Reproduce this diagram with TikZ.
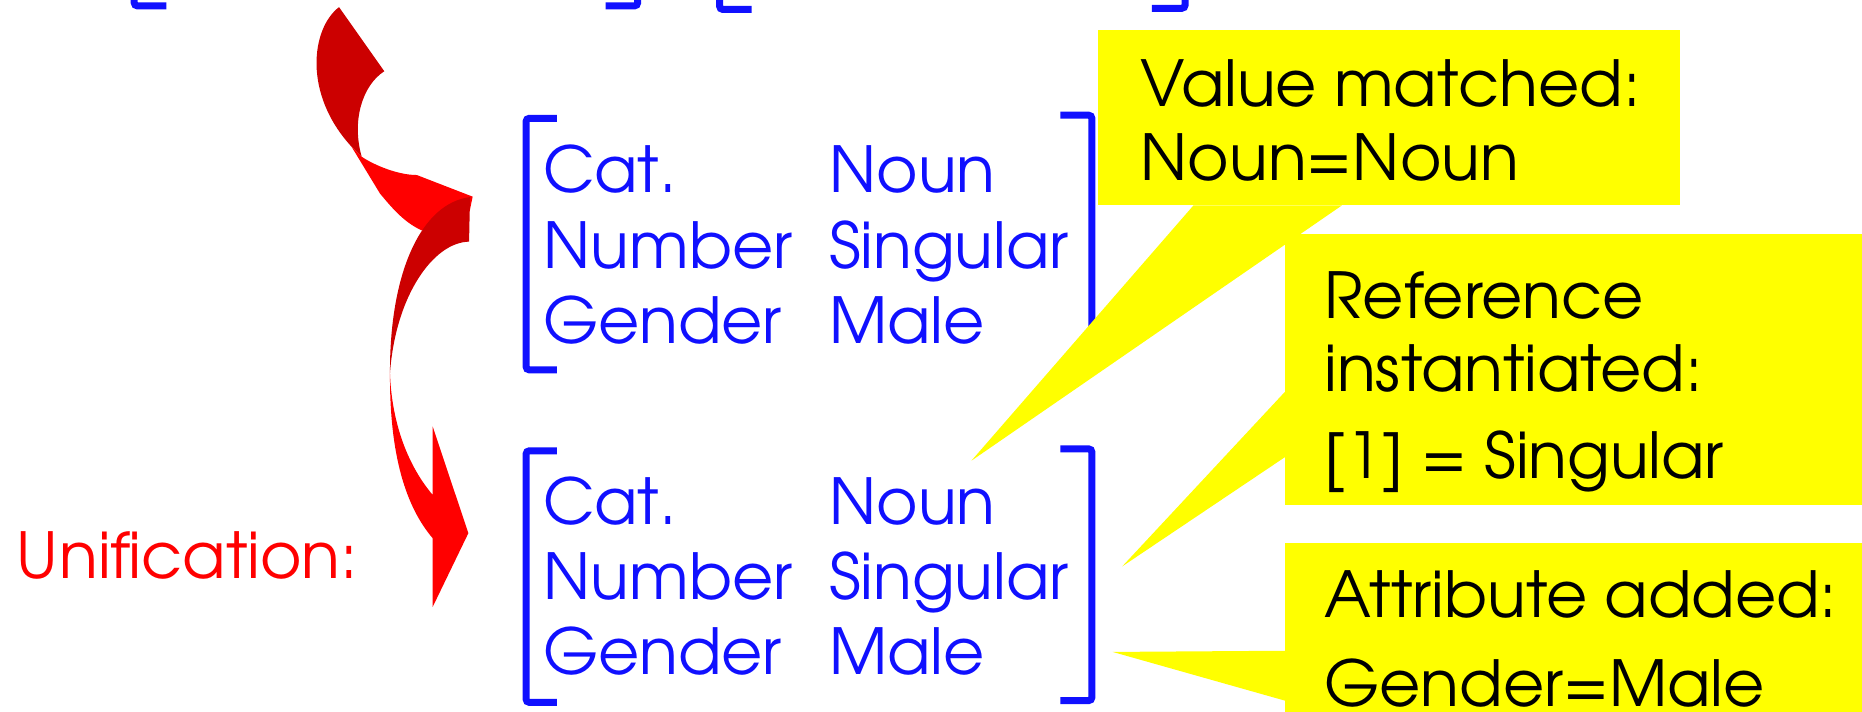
\documentclass[tikz,border=0pt]{standalone}
\usepackage{fontspec}
\setmainfont{TeX Gyre Adventor}
\definecolor{unifblue}{RGB}{16,16,255}
\definecolor{unifred}{RGB}{255,0,0}
\definecolor{unifdark}{RGB}{204,0,0}
\definecolor{unifyellow}{RGB}{255,255,0}

\begin{document}
\begin{tikzpicture}[x=0.25mm,y=0.25mm,font=\fontsize{38}{46}\selectfont,
  feat/.style={anchor=base west,inner sep=0pt,text=unifblue},
  note/.style={anchor=base west,inner sep=0pt},
  bracket/.style={draw=unifblue,line width=4.2pt,rounded corners=2pt}]
\path[use as bounding box] (0,0) rectangle (1568,599);
% ribbon arrow, drawn back to front
\fill[unifdark] (285.5,593) -- (323.6,539) .. controls (305,527) and (296,497) .. (304.6,467)
  -- (296,475.5) .. controls (255,520) and (262,575) .. (285.5,593) -- cycle;
\fill[unifred] (296,475.5) -- (304.6,467) .. controls (315,460) and (335,451.6) .. (351,451.6)
  -- (398,433.4) -- (395.5,421) -- (355,405) .. controls (340,412) and (330,424) .. (320,436)
  -- cycle;
\fill[unifdark] (395.8,433) -- (395,395.5) .. controls (365,395) and (333,350) .. (328.4,284.6)
  .. controls (328,370) and (355,428) .. (395.8,433) -- cycle;
\fill[unifred] (328.4,284.6) .. controls (328,215) and (342,172) .. (364.4,145.7) -- (364.4,88)
  -- (394.4,150) -- (364.4,239.7) -- (364.4,182.2) .. controls (345,205) and (330,240) .. (328.4,284.6)
  -- cycle;
\node[note,text=unifred] (unif) at (14,111.5) {Unification:};
% brackets of the row above, cut off by the top edge
\draw[bracket] (113,610) -- (113,594) -- (140,594);
\draw[bracket] (510,594) -- (537,594) -- (537,610);
\draw[bracket] (606,610) -- (606,591) -- (633,591);
\draw[bracket] (970,592) -- (998,592) -- (998,610);
% first feature structure
\draw[bracket] (469,499.4) -- (443,499.4) -- (443,287.5) -- (469,287.5);
\draw[bracket] (893,502) -- (919.5,502) -- (919.5,288) -- (893,288);
\node[feat] (catA) at (457,437) {Cat.};
\node[feat] (nounA) at (698,437) {Noun};
\node[feat] (numA) at (457,373) {Number};
\node[feat] (singA) at (698,373) {Singular};
\node[feat] (genA) at (457,310) {Gender};
\node[feat] (maleA) at (698,310) {Male};
% unified feature structure
\draw[bracket] (469,219.4) -- (443,219.4) -- (443,7.5) -- (469,7.5);
\draw[bracket] (893,221) -- (919.5,221) -- (919.5,9) -- (893,9);
\node[feat] (catB) at (457,157) {Cat.};
\node[feat] (nounB) at (698,157) {Noun};
\node[feat] (numB) at (457,94) {Number};
\node[feat] (singB) at (698,94) {Singular};
\node[feat] (genB) at (457,31) {Gender};
\node[feat] (maleB) at (698,31) {Male};
% callouts
\fill[unifyellow] (925,426) rectangle (1415,574);
\fill[unifyellow] (1005,426) -- (818,211) -- (1130,426) -- cycle;
\fill[unifyellow] (1082,174) rectangle (1568,402);
\fill[unifyellow] (1082,269) -- (945,122) -- (1082,214) -- cycle;
\fill[unifyellow] (1082,-10) rectangle (1568,142);
\fill[unifyellow] (1082,51) -- (937,50) -- (1082,9) -- cycle;
\node[note] (valA) at (960,509) {Value matched:};
\node[note] (valB) at (960,447) {Noun=Noun};
\node[note] (refA) at (1115,331) {Reference};
\node[note] (refB) at (1115,269) {instantiated:};
\node[note] (refC) at (1115,196) {[1] = Singular};
\node[note] (attA) at (1115,79) {Attribute added:};
\node[note] (attB) at (1115,4) {Gender=Male};
\end{tikzpicture}
\end{document}
